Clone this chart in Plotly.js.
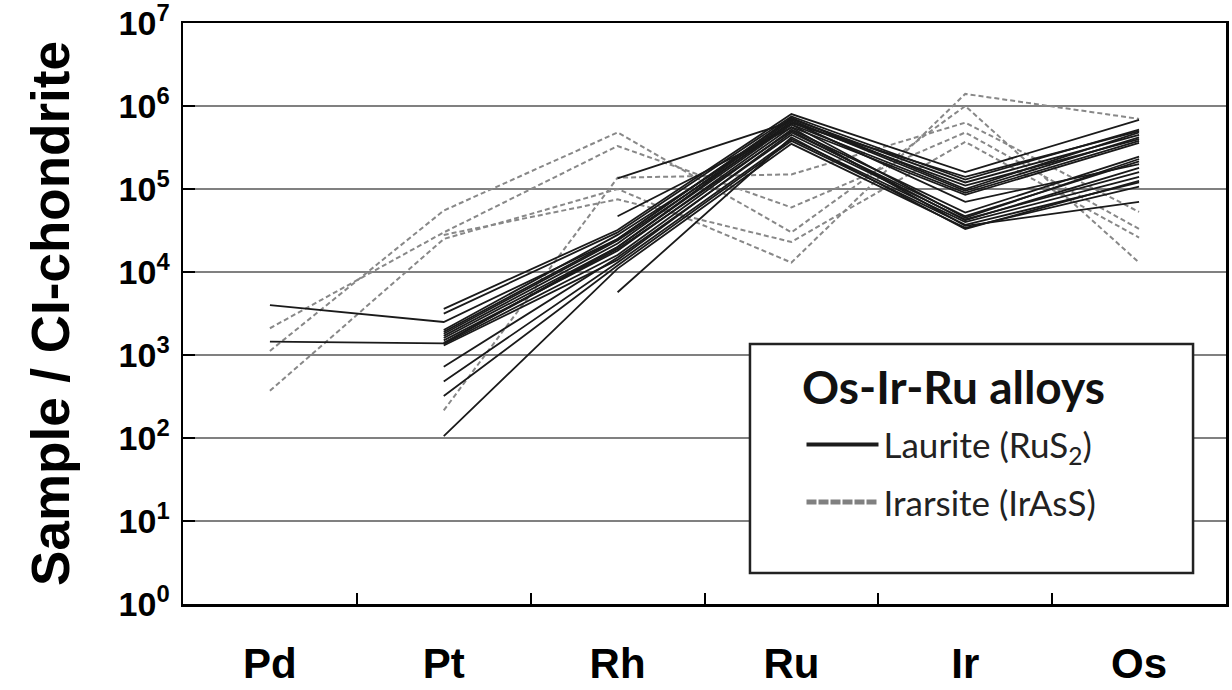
<!DOCTYPE html>
<html>
<head>
<meta charset="utf-8">
<script src="https://cdn.plot.ly/plotly-3.0.1.min.js"></script>
<style>html,body{margin:0;padding:0;background:#fff;}#chart{width:1232px;height:690px;}</style>
</head>
<body>
<div id="chart"></div>
<script>
// Categories (x axis)
const elements = ['Pd', 'Pt', 'Rh', 'Ru', 'Ir', 'Os'];

// Laurite (RuS2) – Sample / CI-chondrite, order: Pd, Pt, Rh, Ru, Ir, Os
const laurite = [
  [4000, 2500, 25000, 700000, 120000, 450000],
  [1450, 1380, 20000, 650000, 110000, 400000],
  [null, 3600, 32000, 800000, 160000, 680000],
  [null, 3150, 30000, 750000, 130000, 520000],
  [null, 2000, 28000, 620000, 140000, 500000],
  [null, 1900, 25000, 720000, 100000, 480000],
  [null, 1800, 24000, 600000, 45000, 230000],
  [null, 1700, 22000, 680000, 95000, 420000],
  [null, 1600, 20000, 600000, 90000, 380000],
  [null, 1500, 18000, 560000, 85000, 360000],
  [null, 1400, 19000, 500000, 42000, 180000],
  [null, 1350, 16000, 520000, 52000, 245000],
  [null, 1300, 14000, 480000, 47000, 215000],
  [null, 720, 15000, 450000, 43000, 160000],
  [null, 480, 13000, 400000, 40000, 140000],
  [null, 320, 12000, 380000, 37000, 120000],
  [null, 105, 11000, 350000, 34000, 107000],
  [null, null, 134000, 650000, 70000, 200000],
  [null, null, 47000, 550000, 36000, 70000],
  [null, null, 5700, 420000, 33000, 125000]
];

// Irarsite (IrAsS)
const irarsite = [
  [1120, 55000, 480000, 30000, 1000000, 13000],
  [2100, 30000, 330000, 60000, 480000, 33000],
  [370, 25000, 100000, 13000, 1400000, 700000],
  [null, 215, 137000, 150000, 630000, 53000],
  [null, 28000, 75000, 23000, 370000, 26000]
];

const legendNames = ['Laurite (RuS<sub>2</sub>)', 'Irarsite (IrAsS)'];
const legendTitle = 'Os-Ir-Ru alloys';

const yTickVals = [1, 10, 100, 1000, 10000, 100000, 1000000, 10000000];
const yTickText = ['10<sup>0</sup>', '10<sup>1</sup>', '10<sup>2</sup>', '10<sup>3</sup>',
                   '10<sup>4</sup>', '10<sup>5</sup>', '10<sup>6</sup>', '10<sup>7</sup>'];

const boldFont = '"Liberation Sans Narrow", "Arial Narrow", "Liberation Sans", Arial, sans-serif';
const legendFont = 'Lato, "Open Sans", sans-serif';

const traces = [];
irarsite.forEach(function (row) {
  traces.push({
    x: elements, y: row, type: 'scatter', mode: 'lines',
    line: {color: '#888888', width: 2, dash: '5px,3px'},
    showlegend: false, hoverinfo: 'skip'
  });
});
laurite.forEach(function (row) {
  traces.push({
    x: elements, y: row, type: 'scatter', mode: 'lines',
    line: {color: '#1a1a1a', width: 1.8},
    showlegend: false, hoverinfo: 'skip'
  });
});
// legend keys
traces.push({
  x: [null], y: [null], type: 'scatter', mode: 'lines', name: legendNames[0],
  legendgroup: 'a', line: {color: '#1c1c1c', width: 4}
});
traces.push({
  x: [null], y: [null], type: 'scatter', mode: 'lines', name: legendNames[1],
  legendgroup: 'b', line: {color: '#808080', width: 5, dash: '10px,2px'}
});

const layout = {
  width: 1232, height: 690,
  margin: {l: 183, r: 6, t: 23, b: 86},
  paper_bgcolor: '#ffffff', plot_bgcolor: '#ffffff',
  xaxis: {
    type: 'category', categoryorder: 'array', categoryarray: elements,
    range: [-0.5, 5.5],
    tickson: 'boundaries', ticks: 'inside', ticklen: 11, tickwidth: 2, tickcolor: '#000',
    showgrid: false, zeroline: false,
    showline: true, mirror: true, linecolor: '#000', linewidth: 2.5,
    tickfont: {family: boldFont, size: 42, color: '#000', weight: 'bold'},
    ticklabelstandoff: 21, ticklabeloverflow: 'allow'
  },
  yaxis: {
    type: 'log', range: [-0.0005, 7.0005],
    tickvals: yTickVals, ticktext: yTickText,
    ticks: 'inside', ticklen: 12, tickwidth: 2.5, tickcolor: '#000',
    showgrid: true, gridcolor: '#808080', gridwidth: 1.2,
    zeroline: false,
    showline: true, mirror: true, linecolor: '#000', linewidth: 2.5,
    tickfont: {family: boldFont, size: 34, color: '#000', weight: 'bold'},
    ticklabelstandoff: 4, ticklabeloverflow: 'allow',
    title: {text: 'Sample / CI-chondrite', font: {family: boldFont, size: 53, color: '#000', weight: 'bold'}, standoff: 32}
  },
  showlegend: true,
  legend: {
    x: 0.593, y: 0.325, xanchor: 'left', yanchor: 'top',
    bgcolor: 'rgba(0,0,0,0)', borderwidth: 0,
    tracegroupgap: 9, itemwidth: 72,
    font: {family: legendFont, size: 35, color: '#222'}
  },
  annotations: [{
    text: legendTitle, xref: 'paper', yref: 'paper',
    x: 0.5916, y: 0.3735, xanchor: 'left', yanchor: 'middle', showarrow: false,
    font: {family: legendFont, size: 46, color: '#111', weight: 'bold'}
  }],
  shapes: [{
    type: 'rect', xref: 'paper', yref: 'paper',
    x0: 0.5436, x1: 0.9684, y0: 0.0534, y1: 0.4475,
    line: {color: '#222', width: 2.5}, fillcolor: '#ffffff', layer: 'above'
  }]
};

Plotly.newPlot('chart', traces, layout, {displayModeBar: false, staticPlot: true});
</script>
</body>
</html>
